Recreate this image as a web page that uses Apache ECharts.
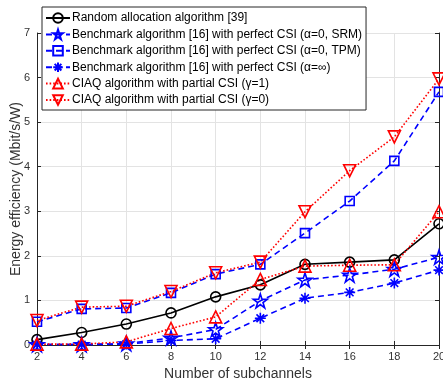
<!DOCTYPE html>
<html>
<head>
<meta charset="utf-8">
<script src="https://cdn.jsdelivr.net/npm/echarts@6/dist/echarts.min.js"></script>
<style>
  html, body { margin: 0; padding: 0; background: #fff; }
  #chart { width: 443px; height: 383px; }
</style>
</head>
<body>
<div id="chart"></div>
<script>
// number of subchannels
var subchannels = [2, 4, 6, 8, 10, 12, 14, 16, 18, 20];

// energy efficiency (Mbit/s/W)
var randomAlloc = [0.12, 0.28, 0.47, 0.72, 1.08, 1.35, 1.81, 1.86, 1.91, 2.72];
var benchSRM = [0.01, 0.01, 0.03, 0.16, 0.35, 0.99, 1.46, 1.57, 1.70, 1.97];
var benchTPM = [0.52, 0.81, 0.83, 1.17, 1.59, 1.81, 2.51, 3.23, 4.13, 5.68];
var benchInf = [0.01, 0.01, 0.02, 0.10, 0.14, 0.60, 1.05, 1.18, 1.39, 1.68];
var ciaqG1 = [0.02, 0.02, 0.07, 0.37, 0.63, 1.47, 1.77, 1.79, 1.80, 2.99];
var ciaqG0 = [0.55, 0.85, 0.87, 1.20, 1.62, 1.86, 2.99, 3.91, 4.67, 5.97];

var xTicks = { min: 2, max: 20, interval: 2 };
var yTicks = { min: 0, max: 7, interval: 1 };

var font = "'Liberation Sans', Arial, sans-serif";
var textColor = "#333";
var axisColor = "#262626";

var starPath = "path://M0,-1L0.2245,-0.309L0.951,-0.309L0.363,0.118L0.588,0.809L0,0.382L-0.588,0.809L-0.363,0.118L-0.951,-0.309L-0.2245,-0.309Z";
var asteriskPath = "path://M0,-1L0,1M-1,0L1,0M-0.7,-0.7L0.7,0.7M-0.7,0.7L0.7,-0.7";
var triDownPath = "path://M-1,-1L1,-1L0,1Z";

function makeSeries(name, data, color, lineType, symbol, size) {
  return {
    name: name,
    type: "line",
    data: subchannels.map(function (x, i) { return [x, data[i]]; }),
    symbol: symbol,
    symbolSize: size,
    showAllSymbol: true,
    lineStyle: { color: color, width: 1.6, type: lineType },
    itemStyle: { color: "rgba(255,255,255,0)", borderColor: color, borderWidth: 1.6 },
    emphasis: { disabled: true },
    animation: false,
  };
}

var series = [
  makeSeries("Random allocation algorithm [39]", randomAlloc, "#000000", "solid", "circle", 10),
  makeSeries("Benchmark algorithm [16] with perfect CSI (α=0, SRM)", benchSRM, "#0000ff", [6, 4], starPath, 14),
  makeSeries("Benchmark algorithm [16] with perfect CSI (α=0, TPM)", benchTPM, "#0000ff", [6, 4], "rect", 9),
  makeSeries("Benchmark algorithm [16] with perfect CSI (α=∞)", benchInf, "#0000ff", [6, 4], asteriskPath, 11),
  makeSeries("CIAQ algorithm with partial CSI (γ=1)", ciaqG1, "#ff0000", [1.6, 2], "triangle", 12),
  makeSeries("CIAQ algorithm with partial CSI (γ=0)", ciaqG0, "#ff0000", [1.6, 2], triDownPath, 12),
];

var myChart = echarts.init(document.getElementById("chart"));
myChart.setOption({
  animation: false,
  textStyle: { fontFamily: font },
  grid: { left: 37, right: 4, top: 33, bottom: 38, containLabel: false, outerBoundsMode: "none" },
  legend: {
    orient: "vertical",
    left: 42,
    top: 7,
    width: 320,
    padding: [5, 4, 4, 3],
    itemGap: 4.4,
    itemWidth: 24,
    itemHeight: 12,
    backgroundColor: "#ffffff",
    borderColor: axisColor,
    borderWidth: 1,
    textStyle: { fontFamily: font, fontSize: 12, color: "#000", padding: [0, 0, 0, -3] },
    z: 10,
  },
  xAxis: [
    {
      type: "value",
      min: xTicks.min,
      max: xTicks.max,
      interval: xTicks.interval,
      name: "Number of subchannels",
      nameLocation: "middle",
      nameGap: 22,
      nameTextStyle: { fontFamily: font, fontSize: 14, color: textColor },
      axisLine: { show: true, lineStyle: { color: axisColor, width: 1 } },
      axisTick: { show: true, inside: true, length: 4, lineStyle: { color: axisColor } },
      axisLabel: { fontFamily: font, fontSize: 11, color: textColor, margin: 6 },
      splitLine: { show: true, lineStyle: { color: "#e3e3e3", width: 1 } },
    },
    {
      type: "value",
      position: "top",
      min: xTicks.min,
      max: xTicks.max,
      interval: xTicks.interval,
      axisLine: { show: true, lineStyle: { color: axisColor, width: 1 } },
      axisTick: { show: true, inside: true, length: 4, lineStyle: { color: axisColor } },
      axisLabel: { show: false },
      splitLine: { show: false },
    },
  ],
  yAxis: [
    {
      type: "value",
      min: yTicks.min,
      max: yTicks.max,
      interval: yTicks.interval,
      name: "Energy efficiency (Mbit/s/W)",
      nameLocation: "middle",
      nameGap: 14,
      nameMoveOverlap: false,
      nameTextStyle: { fontFamily: font, fontSize: 14, color: textColor },
      axisLine: { show: true, lineStyle: { color: axisColor, width: 1 } },
      axisTick: { show: true, inside: true, length: 4, lineStyle: { color: axisColor } },
      axisLabel: { fontFamily: font, fontSize: 11, color: textColor, margin: 7 },
      splitLine: { show: true, lineStyle: { color: "#e3e3e3", width: 1 } },
    },
    {
      type: "value",
      position: "right",
      min: yTicks.min,
      max: yTicks.max,
      interval: yTicks.interval,
      axisLine: { show: true, lineStyle: { color: axisColor, width: 1 } },
      axisTick: { show: true, inside: true, length: 4, lineStyle: { color: axisColor } },
      axisLabel: { show: false },
      splitLine: { show: false },
    },
  ],
  series: series,
});
</script>
</body>
</html>
